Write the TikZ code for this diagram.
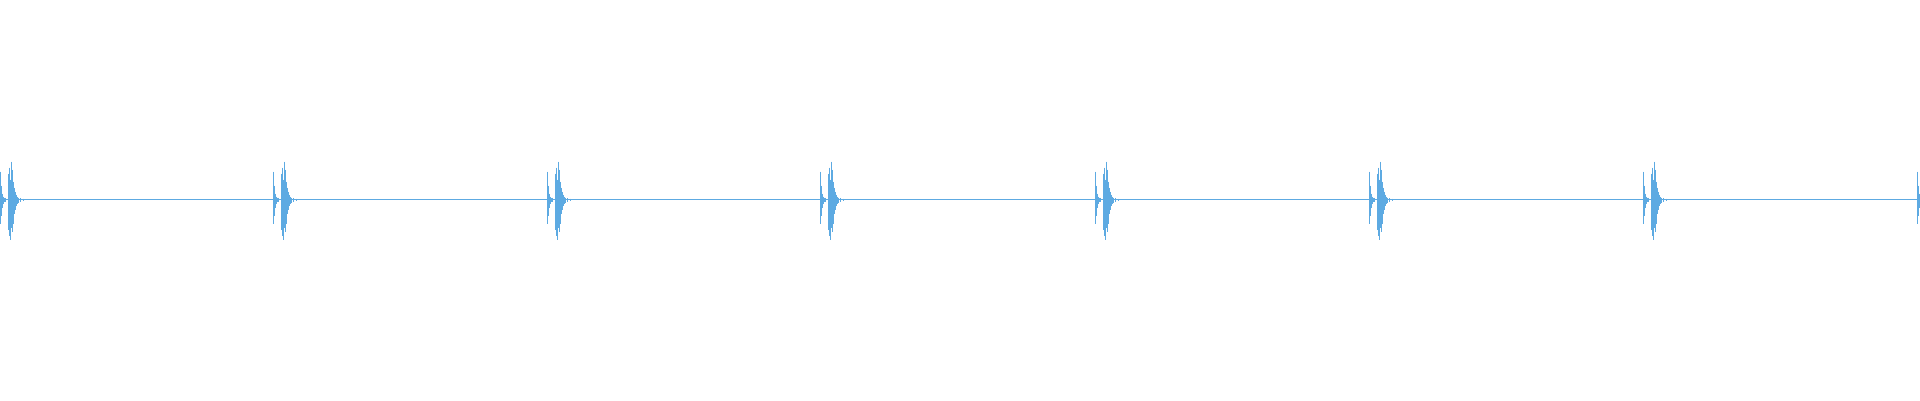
\documentclass[tikz,border=0pt]{standalone}
\begin{document}
\begin{tikzpicture}[x=1pt,y=-1pt,wave/.style={draw={rgb,255:red,93;green,170;blue,226},line width=0.9pt}]
\useasboundingbox (0,0) rectangle (1920,400);
\draw[wave,line width=0.8pt] (0,199.5) -- (1920,199.5);
\foreach \s in {0,273,547,820,1095,1369,1643,1917}{
  \foreach \dx/\up/\dn in {0/28/24,1/14/16,2/6/8,3/3/4,4/2/2,5/2/2,8/26/30,9/32/36,10/20/40,11/38/28,12/30/32,13/18/24,14/12/14,15/8/10,16/5/6,17/3/4,18/2/3,20/1.5/2,23/1/1.5}{
    \draw[wave] (\s+\dx,199.5-\up) -- (\s+\dx,199.5+\dn);
  }
}
\end{tikzpicture}
\end{document}
